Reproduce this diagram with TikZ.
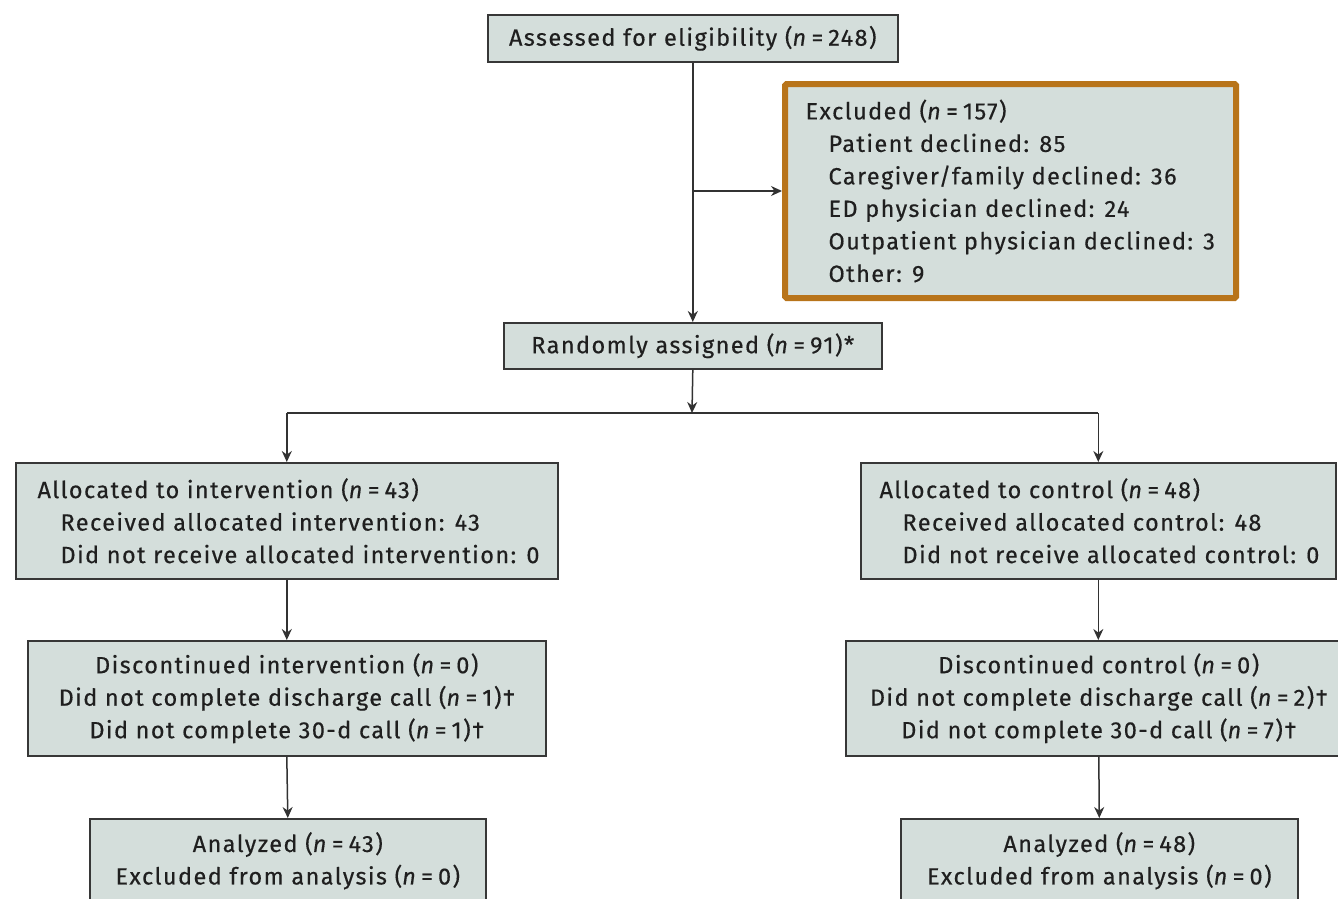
\documentclass[tikz,border=0pt]{standalone}
\usepackage{fontspec}
\setmainfont{Fira Sans}[LetterSpace=6,FakeBold=0.4]
\usetikzlibrary{arrows.meta}
\definecolor{boxfill}{RGB}{212,222,219}
\definecolor{boxline}{RGB}{55,55,55}
\definecolor{exclline}{RGB}{184,116,26}
\definecolor{linecol}{RGB}{50,50,50}
\newcommand\ind{\hspace*{23pt}}
\newcommand\nn[1]{(\textit{n}\hspace{4pt}=\hspace{5pt}#1)}
\tikzset{
  box/.style={draw=boxline, line width=1.6pt, fill=boxfill, inner sep=0pt, anchor=north west},
  exclbox/.style={draw=exclline, line width=6pt, fill=boxfill, inner sep=0pt, anchor=north west, rounded corners=1.5pt},
  txt/.style={font=\fontsize{23.5}{32.5}\selectfont, text=black!88},
  arr/.style={line width=1.5pt, draw=linecol, -{Stealth[length=11pt,width=10pt]}},
  plain/.style={line width=1.5pt, draw=linecol},
}
\begin{document}
\begin{tikzpicture}[x=1pt,y=-1pt]
\useasboundingbox (0,0) rectangle (1338,899);
\clip (0,0) rectangle (1338,899);
\fill[white] (0,0) rectangle (1338,899);

% boxes
\node[box, txt, minimum width=410pt, minimum height=47pt] (assess) at (487,14) {Assessed for eligibility \nn{248}};
\node[exclbox, minimum width=451pt, minimum height=214pt] (excl) at (782,81) {};
\node[txt, anchor=west, align=left] (excltxt) at ([xshift=20pt]excl.west) {Excluded \nn{157}\\
\ind Patient declined: 85\\
\ind Caregiver/family declined: 36\\
\ind ED physician declined: 24\\
\ind Outpatient physician declined: 3\\
\ind Other: 9};
\node[box, txt, minimum width=378pt, minimum height=46pt] (rand) at (503,322) {Randomly assigned \nn{91}*};

\node[box, minimum width=542pt, minimum height=116pt] (allocL) at (15,462) {};
\node[txt, anchor=west, align=left] (allocLtxt) at ([xshift=19pt]allocL.west) {Allocated to intervention \nn{43}\\
\ind Received allocated intervention: 43\\
\ind Did not receive allocated intervention: 0};
\node[box, minimum width=475pt, minimum height=116pt] (allocR) at (860,462) {};
\node[txt, anchor=west, align=left] (allocRtxt) at ([xshift=16pt]allocR.west) {Allocated to control \nn{48}\\
\ind Received allocated control: 48\\
\ind Did not receive allocated control: 0};

\node[box, txt, align=center, minimum width=518pt, minimum height=115pt] (discL) at (27,640) {Discontinued intervention \nn{0}\\
Did not complete discharge call \nn{1}\textdagger\\
Did not complete 30-d call \nn{1}\textdagger};
\node[box, txt, align=center, minimum width=506pt, minimum height=115pt] (discR) at (845,640) {Discontinued control \nn{0}\\
Did not complete discharge call \nn{2}\textdagger\\
Did not complete 30-d call \nn{7}\textdagger};

\node[box, txt, align=center, minimum width=396pt, minimum height=84pt] (anaL) at (89,818) {Analyzed \nn{43}\\
Excluded from analysis \nn{0}};
\node[box, txt, align=center, minimum width=397pt, minimum height=84pt] (anaR) at (900,818) {Analyzed \nn{48}\\
Excluded from analysis \nn{0}};

% connectors
\coordinate (br) at (assess.south |- excl.west);
\coordinate (split) at (692,413);
\coordinate (splitL) at (allocL.north |- split);
\coordinate (splitR) at (allocR.north |- split);
\draw[arr] (assess.south) -- (rand.north);
\draw[arr] (br) -- (excl.west);
\draw[arr] (rand.south) -- (split);
\draw[plain] (splitL) -- (splitR);
\draw[arr] (splitL) -- (allocL.north);
\draw[arr] (splitR) -- (allocR.north);
\draw[arr] (allocL.south) -- (allocL.south |- discL.north);
\draw[arr] (allocR.south) -- (allocR.south |- discR.north);
\draw[arr] (discL.south) -- (anaL.north);
\draw[arr] (discR.south) -- (anaR.north);
\end{tikzpicture}
\end{document}
